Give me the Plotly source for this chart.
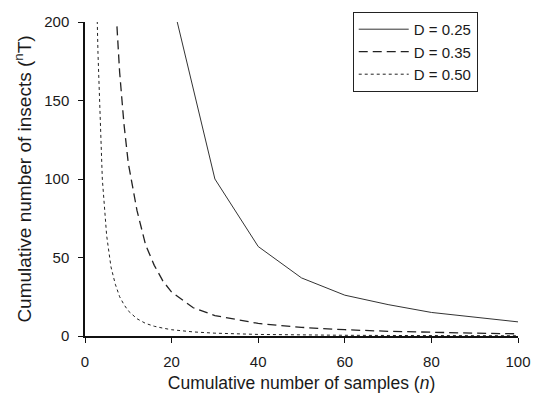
import plotly.graph_objects as go

# Data
n_025 = [20, 30, 40, 50, 60, 70, 80, 90, 100]
t_025 = [215, 100, 57, 37, 26, 20, 15, 12, 9]

n_035 = [7, 8, 9, 10, 12, 14, 16, 18, 20, 25, 30, 40, 50, 60, 70, 80, 90, 100]
t_035 = [215, 168, 135, 110, 80, 58, 45, 35, 28, 18, 13, 8, 5.5, 4, 3, 2.3, 1.8, 1.4]

n_050 = [2, 3, 4, 5, 6, 7, 8, 9, 10, 12, 14, 16, 18, 20, 25, 30, 40, 50, 60, 70, 80, 90, 100]
t_050 = [300, 180, 100, 64, 44, 33, 25, 20, 16, 11, 8, 6.2, 5, 4, 2.6, 1.8, 1, 0.6, 0.45, 0.33, 0.25, 0.2, 0.16]

x_ticks = [0, 20, 40, 60, 80, 100]
y_ticks = [0, 50, 100, 150, 200]

FONT = "Liberation Sans, Arial, Helvetica, sans-serif"

fig = go.Figure()
fig.add_trace(go.Scatter(x=n_025, y=t_025, mode="lines", name="D = 0.25",
                         line=dict(color="#333333", width=1, dash="solid")))
fig.add_trace(go.Scatter(x=n_035, y=t_035, mode="lines", name="D = 0.35",
                         line=dict(color="#222222", width=1.3, dash="9px,5px")))
fig.add_trace(go.Scatter(x=n_050, y=t_050, mode="lines", name="D = 0.50",
                         line=dict(color="#222222", width=1, dash="dot")))

fig.update_layout(
    width=543, height=407,
    margin=dict(l=85, r=15, t=22, b=71),
    paper_bgcolor="white", plot_bgcolor="white",
    font=dict(family=FONT, size=15, color="#1a1a1a"),
    showlegend=True,
    legend=dict(x=0.907, y=1.032, xanchor="right", yanchor="top",
                bgcolor="white", bordercolor="#222222", borderwidth=1,
                font=dict(size=15), tracegroupgap=0, itemwidth=50),
    xaxis=dict(range=[0, 100], tickvals=x_ticks, showgrid=False, zeroline=False,
               showline=True, linecolor="#111111", linewidth=1.5,
               ticks="outside", ticklen=5, tickcolor="#111111",
               ticklabelstandoff=6, tickfont=dict(size=15),
               title=dict(text="Cumulative number of samples (<i>n</i>)",
                          font=dict(size=17.5), standoff=8)),
    yaxis=dict(range=[0, 200], tickvals=y_ticks, showgrid=False, zeroline=False,
               showline=True, linecolor="#111111", linewidth=1.5,
               ticks="outside", ticklen=5, tickcolor="#111111",
               ticklabelstandoff=6, tickfont=dict(size=15),
               title=dict(text="Cumulative number of insects (<sup>n</sup>T)",
                          font=dict(size=19), standoff=8)),
)

fig.write_html("out.html")
